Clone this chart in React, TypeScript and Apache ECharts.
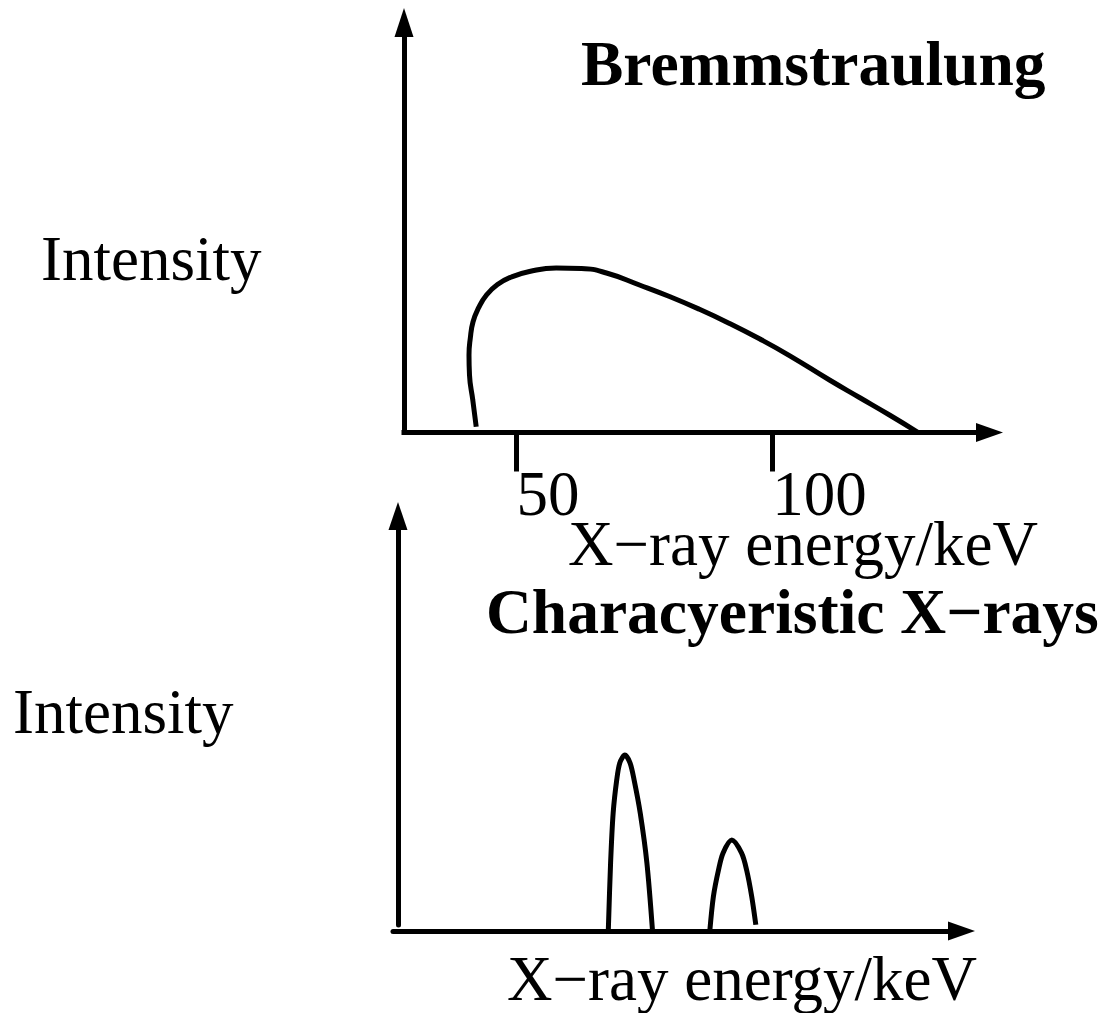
import React, { useEffect, useRef } from "react";
import * as echarts from "echarts";

const FONT = "'Liberation Serif', 'Times New Roman', Times, serif";

// Bremsstrahlung continuum (keV, arbitrary intensity)
const bremKeV = [
  42.12, 41.45, 40.81, 40.71, 40.97, 41.49, 42.57, 44.13, 46.28, 49.02, 52.54, 57.76,
  62.71, 67.6, 74.05, 79.92, 85.78, 91.65, 97.52, 103.38, 111.21, 117.07, 122.94, 128.41,
];
const bremIntensity = [
  1.41, 7.93, 14.02, 18.9, 23.05, 26.95, 30.37, 33.54, 36.1, 37.93, 39.27, 40.12,
  40.0, 38.9, 35.98, 33.17, 30.05, 26.61, 22.85, 18.76, 12.8, 8.54, 4.27, 0.12,
];

// Characteristic lines
const peak1KeV = [67.85, 68.3, 68.8, 69.5, 70.1, 71.1, 72.1, 72.9, 74.1, 75.4, 76.5];
const peak1Intensity = [0, 16.4, 28.4, 36.4, 40.5, 42.4, 40.5, 36.4, 28.4, 16.4, 0];
const peak2KeV = [87.7, 88.4, 89.4, 90.3, 92.0, 93.9, 94.9, 95.9, 96.7];
const peak2Intensity = [0, 8.3, 14.7, 18.8, 21.9, 18.8, 14.7, 8.3, 1.5];

const tickValues = [50, 100];

const titleTop = "Bremmstraulung";
const titleBottom = "Characyeristic X\u2212rays";
const yName = "Intensity";
const xName = "X\u2212ray energy/keV";

const zip = (a: number[], b: number[]) => a.map((v, i) => [v, b[i]]);

export default function App() {
  const ref = useRef<HTMLDivElement>(null);
  useEffect(() => {
    document.body.style.margin = "0";
    if (!ref.current) return;
    const chart = echarts.init(ref.current, undefined, { renderer: "svg" });
    const axisLineStyle = { color: "#000", width: 5 };
    const textStyle = (text: string, size: number, bold = false) => ({
      text,
      fontSize: size,
      fontFamily: FONT,
      fontWeight: bold ? "bold" : "normal",
      fill: "#000",
      align: "left",
      verticalAlign: "middle",
      textAlign: "left",
      textVerticalAlign: "middle",
    });
    chart.setOption({
      animation: false,
      backgroundColor: "#fff",
      grid: [
        { left: 404, top: 22.5, width: 585.5, height: 410 },
        { left: 393, top: 516, width: 568.5, height: 415 },
        { left: 398, top: 516, width: 100, height: 409 },
      ],
      xAxis: [
        {
          type: "value",
          gridIndex: 0,
          min: 28,
          max: 142.5,
          axisLine: {
            show: true,
            onZero: false,
            symbol: ["none", "triangle"],
            symbolSize: [19, 27],
            lineStyle: { ...axisLineStyle, cap: "square" },
          },
          axisTick: {
            show: true,
            customValues: tickValues,
            length: 39,
            inside: false,
            lineStyle: { color: "#000", width: 5 },
          },
          axisLabel: {
            show: true,
            customValues: tickValues,
            align: "left",
            verticalAlign: "middle",
            margin: 61,
            fontSize: 63,
            fontFamily: FONT,
            color: "#000",
          },
          splitLine: { show: false },
        },
        {
          type: "value",
          gridIndex: 1,
          min: 25.75,
          max: 136.92,
          axisLine: {
            show: true,
            onZero: false,
            symbol: ["none", "triangle"],
            symbolSize: [19, 27],
            lineStyle: axisLineStyle,
          },
          axisTick: { show: false },
          axisLabel: { show: false },
          splitLine: { show: false },
        },
        {
          type: "value",
          gridIndex: 2,
          show: false,
          min: 0,
          max: 100,
        },
      ],
      yAxis: [
        {
          type: "value",
          gridIndex: 0,
          min: 0,
          max: 100,
          axisLine: {
            show: true,
            onZero: false,
            symbol: ["none", "triangle"],
            symbolSize: [19, 29],
            lineStyle: { ...axisLineStyle, cap: "square" },
          },
          axisTick: { show: false },
          axisLabel: { show: false },
          splitLine: { show: false },
        },
        {
          type: "value",
          gridIndex: 1,
          show: false,
          min: 0,
          max: 100,
        },
        {
          type: "value",
          gridIndex: 2,
          min: 0,
          max: 100,
          axisLine: {
            show: true,
            onZero: false,
            symbol: ["none", "triangle"],
            symbolSize: [19, 28],
            lineStyle: axisLineStyle,
          },
          axisTick: { show: false },
          axisLabel: { show: false },
          splitLine: { show: false },
        },
      ],
      series: [
        {
          type: "line",
          xAxisIndex: 0,
          yAxisIndex: 0,
          data: zip(bremKeV, bremIntensity),
          smooth: 0.5,
          symbol: "none",
          showSymbol: false,
          lineStyle: { color: "#000", width: 5 },
        },
        {
          type: "line",
          xAxisIndex: 1,
          yAxisIndex: 1,
          data: zip(peak1KeV, peak1Intensity),
          smooth: 0.3,
          symbol: "none",
          showSymbol: false,
          lineStyle: { color: "#000", width: 5 },
        },
        {
          type: "line",
          xAxisIndex: 1,
          yAxisIndex: 1,
          data: zip(peak2KeV, peak2Intensity),
          smooth: 0.3,
          symbol: "none",
          showSymbol: false,
          lineStyle: { color: "#000", width: 5 },
        },
      ],
      graphic: [
        { type: "text", x: 581, y: 63.6, style: textStyle(titleTop, 63.5, true) },
        { type: "text", x: 41, y: 258.7, style: textStyle(yName, 63) },
        { type: "text", x: 568, y: 543.7, style: textStyle(xName, 63) },
        { type: "text", x: 486, y: 611.6, style: textStyle(titleBottom, 63.5, true) },
        { type: "text", x: 13, y: 711.7, style: textStyle(yName, 63) },
        { type: "text", x: 507, y: 978.7, style: textStyle(xName, 63) },
      ],
    });
    return () => chart.dispose();
  }, []);
  return <div ref={ref} style={{ width: 1104, height: 1013 }} />;
}
